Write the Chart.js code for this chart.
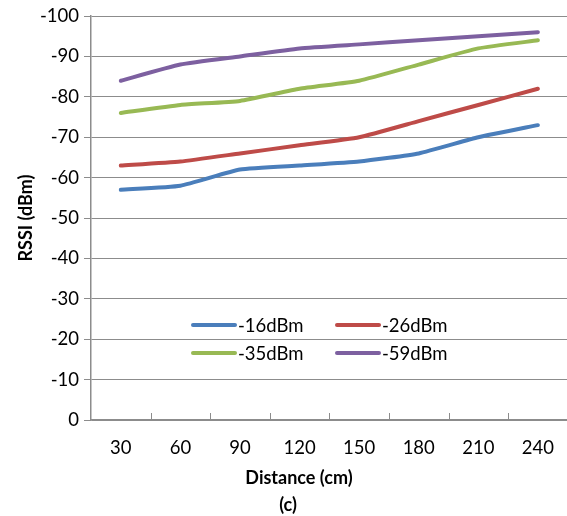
<!DOCTYPE html>
<html>
<head>
<meta charset="utf-8">
<script src="https://cdn.jsdelivr.net/npm/chart.js@4"></script>
<style>
  html, body { margin: 0; padding: 0; background: #fff; overflow: hidden; width: 567px; height: 516px; }
  #wrap { position: absolute; left: 0; top: 0; width: 571px; height: 516px; }
</style>
</head>
<body>
<div id="wrap"><canvas id="c" width="571" height="516"></canvas></div>
<script>
const categories = ["30", "60", "90", "120", "150", "180", "210", "240"];
const seriesNames = ["-16dBm", "-26dBm", "-35dBm", "-59dBm"];
const s16 = [-57, -58, -62, -63, -64, -66, -70, -73];
const s26 = [-63, -64, -66, -68, -70, -74, -78, -82];
const s35 = [-76, -78, -79, -82, -84, -88, -92, -94];
const s59 = [-84, -88, -90, -92, -93, -94, -95, -96];
const colors = ["#4A7EBB", "#BE4B48", "#98B954", "#7D60A0"];
const xTitle = "Distance (cm)";
const yTitle = "RSSI (dBm)";
const caption = "(c)";

const FONT = "Lato, 'Open Sans', sans-serif";
const FS = 18.5;
const GRID = "#8c8c8c";

const insideTicks = {
  id: "insideTicks",
  afterDraw(chart) {
    const x = chart.scales.x, ctx = chart.ctx, b = chart.chartArea.bottom;
    ctx.save();
    ctx.strokeStyle = GRID; ctx.lineWidth = 1;
    for (let i = 1; i < categories.length; i++) {
      const px = Math.round((x.getPixelForValue(i - 1) + x.getPixelForValue(i)) / 2) + 0.5;
      ctx.beginPath(); ctx.moveTo(px, b - 7); ctx.lineTo(px, b); ctx.stroke();
    }
    ctx.restore();
  }
};

const innerLegend = {
  id: "innerLegend",
  afterDatasetsDraw(chart) {
    const ctx = chart.ctx;
    const cols = [193, 337], rows = [325, 353];
    ctx.save();
    ctx.font = FS + "px " + FONT;
    ctx.textBaseline = "middle";
    chart.data.datasets.forEach((ds, i) => {
      const cx = cols[i % 2], cy = rows[Math.floor(i / 2)];
      ctx.strokeStyle = ds.borderColor; ctx.lineWidth = 4; ctx.lineCap = "round";
      ctx.beginPath(); ctx.moveTo(cx, cy); ctx.lineTo(cx + 42, cy); ctx.stroke();
      ctx.fillStyle = "#000";
      ctx.fillText(ds.label, cx + 45, cy + 1);
    });
    ctx.restore();
  }
};

const bottomTexts = {
  id: "bottomTexts",
  afterDraw(chart) {
    const ctx = chart.ctx;
    ctx.save();
    ctx.font = "bold 18px " + FONT;
    ctx.fillStyle = "#000";
    ctx.textAlign = "center"; ctx.textBaseline = "middle";
    ctx.fillText(xTitle, 299, 478);
    ctx.fillText(caption, 288, 505);
    ctx.restore();
  }
};

const datasets = [s16, s26, s35, s59].map((d, i) => ({
  label: seriesNames[i],
  data: d,
  borderColor: colors[i],
  backgroundColor: colors[i],
  borderWidth: 4,
  pointRadius: 0,
  tension: 0.15,
  borderCapStyle: "round",
  fill: false
}));

new Chart(document.getElementById("c"), {
  type: "line",
  data: { labels: categories, datasets },
  options: {
    responsive: false,
    animation: false,
    devicePixelRatio: 1,
    layout: { padding: { top: 8, right: 0, bottom: 0, left: 0 } },
    plugins: { legend: { display: false }, tooltip: { enabled: false } },
    scales: {
      x: {
        type: "category",
        offset: true,
        grid: { display: true, offset: true, drawOnChartArea: false, drawTicks: false },
        border: { display: true, color: GRID, width: 1.5 },
        ticks: { color: "#000", font: { family: FONT, size: FS }, padding: 17, maxRotation: 0 },
        afterFit(s) { s.height = 96; }
      },
      y: {
        type: "linear",
        reverse: true,
        min: -100,
        max: 0,
        ticks: { stepSize: 10, color: "#000", font: { family: FONT, size: FS }, padding: 5 },
        grid: { color: GRID, lineWidth: 1, tickLength: 7, drawTicks: true },
        border: { display: true, color: GRID, width: 1.5 },
        title: { display: true, text: yTitle, color: "#000", font: { family: FONT, size: 18, weight: "bold" }, padding: { top: 15, bottom: 0 } },
        afterFit(s) { s.width = 91; }
      }
    }
  },
  plugins: [insideTicks, innerLegend, bottomTexts]
});
</script>
</body>
</html>
